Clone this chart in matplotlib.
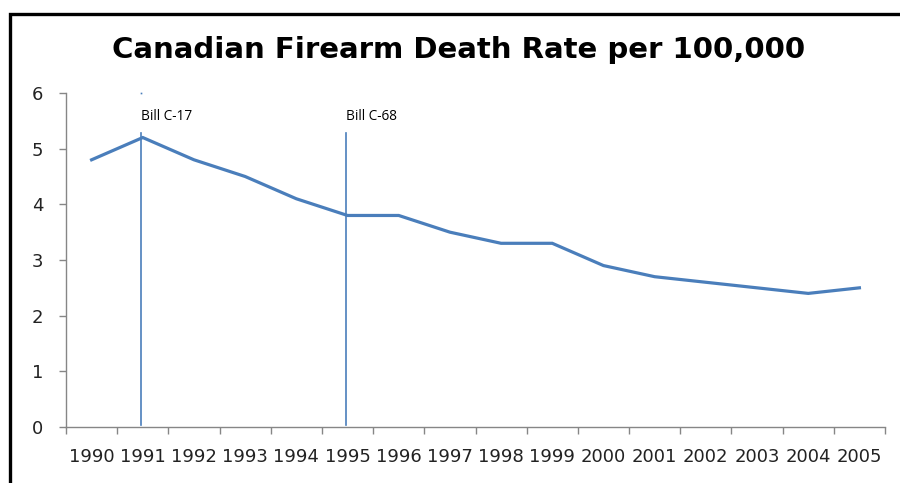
import matplotlib
matplotlib.use("Agg")
import matplotlib.pyplot as plt
from matplotlib.patches import Rectangle

years = ["1990", "1991", "1992", "1993", "1994", "1995", "1996", "1997",
         "1998", "1999", "2000", "2001", "2002", "2003", "2004", "2005"]
rate = [4.8, 5.2, 4.8, 4.5, 4.1, 3.8, 3.8, 3.5, 3.3, 3.3, 2.9, 2.7, 2.6, 2.5, 2.4, 2.5]
bill_names = ["Bill C-17", "Bill C-68"]
bill_years = ["1991", "1995"]
bill_line_top = 5.28
bill_label_y = 5.58
title = "Canadian Firearm Death Rate per 100,000"

blue = "#4A7EBB"
gray = "#868686"

fig = plt.figure(figsize=(9, 4.83), dpi=100)
ax = fig.add_axes([66/900, 1-427/483, (885-66)/900, (427-93)/483])

x = list(range(len(years)))
ax.plot(x, rate, color=blue, lw=2.3, solid_joinstyle="miter", zorder=3)

for name, yr in zip(bill_names, bill_years):
    xi = years.index(yr) - 0.03
    ax.plot([xi, xi], [0.03, bill_line_top], color=blue, lw=1.2, zorder=2)
    ax.text(xi, bill_label_y, name, fontsize=9.8, family="Open Sans",
            ha="left", va="center", color="black")
# small dot at top of first bill line
ax.plot([years.index(bill_years[0]) - 0.03], [6], marker="s", ms=1.2,
        color=blue, mew=0, clip_on=False)

ax.set_xlim(-0.5, len(years) - 0.5)
ax.set_ylim(0, 6)
ax.set_xticks(x)
ax.set_xticklabels(years, fontsize=13)
ax.set_xticks([i - 0.5 for i in range(len(years) + 1)], minor=True)
ax.tick_params(axis="x", which="major", length=0, pad=15, colors="#222222")
ax.tick_params(axis="x", which="minor", length=5, color=gray, width=1)
ax.set_yticks(range(0, 7))
ax.tick_params(axis="y", length=5, color=gray, width=1, pad=11.5, labelsize=13,
               labelcolor="#222222")

for s in ["top", "right"]:
    ax.spines[s].set_visible(False)
for s in ["left", "bottom"]:
    ax.spines[s].set_color(gray)
    ax.spines[s].set_linewidth(1)

fig.text(459/900, 1-50/483, title, fontsize=21, fontweight="bold",
         family="DejaVu Sans", ha="center", va="center")

# frame (cropped at right and bottom)
fig.add_artist(Rectangle((9.5/900, -0.2), 1.2, 1.2 - 14/483,
                         transform=fig.transFigure, fill=False,
                         edgecolor="black", lw=2.4))

fig.savefig("out.png", dpi=100)
